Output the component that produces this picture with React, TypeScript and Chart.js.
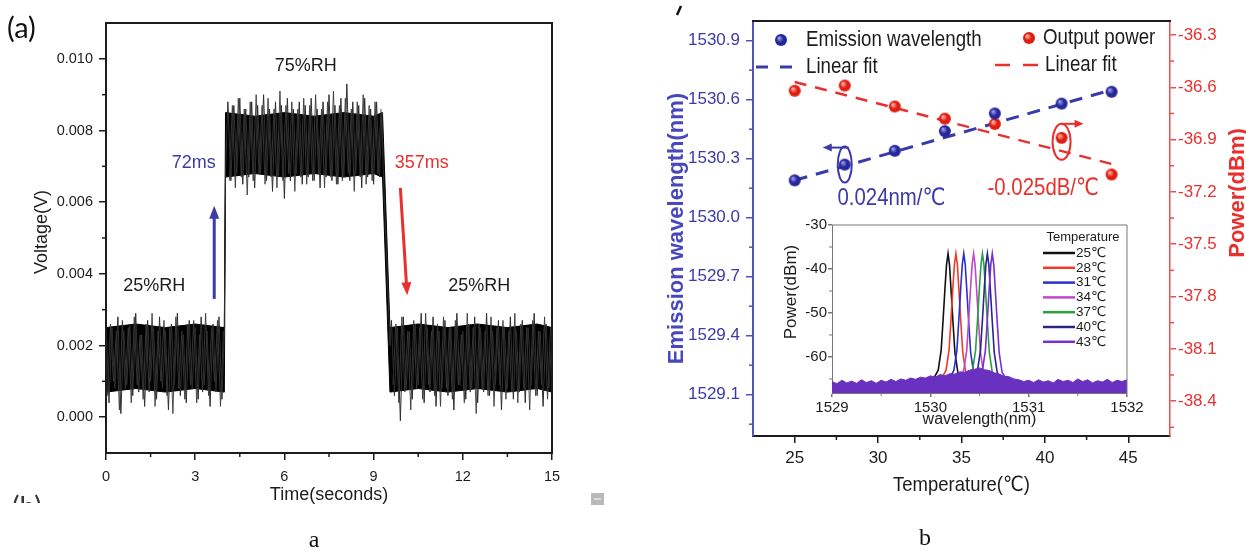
import React, { useEffect, useRef } from "react";
import { Chart, registerables } from "chart.js";

Chart.register(...registerables);

const FONT = "'Liberation Sans', Arial, 'DejaVu Sans', 'Noto Sans CJK SC', sans-serif";
const SERIF = "'Liberation Serif', 'DejaVu Serif', serif";

// ---------------- Panel (a): response trace ----------------
const traceTime = [
  0, 0.1, 0.2, 0.3, 0.4, 0.5, 0.6, 0.7, 0.8, 0.9, 1.0, 1.1, 1.2, 1.3, 1.4, 1.5, 1.6, 1.7, 1.8, 1.9,
  2.0, 2.1, 2.2, 2.3, 2.4, 2.5, 2.6, 2.7, 2.8, 2.9, 3.0, 3.1, 3.2, 3.3, 3.4, 3.5, 3.6, 3.7, 3.8, 3.9,
  3.98, 4.02,
  4.1, 4.2, 4.3, 4.4, 4.5, 4.6, 4.7, 4.8, 4.9, 5.0, 5.1, 5.2, 5.3, 5.4, 5.5, 5.6, 5.7, 5.8, 5.9, 6.0,
  6.1, 6.2, 6.3, 6.4, 6.5, 6.6, 6.7, 6.8, 6.9, 7.0, 7.1, 7.2, 7.3, 7.4, 7.5, 7.6, 7.7, 7.8, 7.9, 8.0,
  8.1, 8.2, 8.3, 8.4, 8.5, 8.6, 8.7, 8.8, 8.9, 9.0, 9.1, 9.2,
  9.28, 9.32, 9.55,
  9.6, 9.7, 9.8, 9.9, 10.0, 10.1, 10.2, 10.3, 10.4, 10.5, 10.6, 10.7, 10.8, 10.9, 11.0, 11.1, 11.2,
  11.3, 11.4, 11.5, 11.6, 11.7, 11.8, 11.9, 12.0, 12.1, 12.2, 12.3, 12.4, 12.5, 12.6, 12.7, 12.8,
  12.9, 13.0, 13.1, 13.2, 13.3, 13.4, 13.5, 13.6, 13.7, 13.8, 13.9, 14.0, 14.1, 14.2, 14.3, 14.4,
  14.5, 14.6, 14.7, 14.8, 14.9, 15.0,
];
const traceVoltage = [
  0.0027, 0.0004, 0.0025, 0.0008, 0.0028, 0.0001, 0.0024, 0.0009, 0.0026, 0.0006,
  0.0029, 0.0007, 0.0023, 0.0003, 0.0027, 0.0010, 0.0025, 0.0005, 0.0028, 0.0008,
  0.0024, 0.0002, 0.0026, 0.0009, 0.0029, 0.0006, 0.0023, 0.0004, 0.0027, 0.0008,
  0.0025, 0.0005, 0.0028, 0.0009, 0.0024, 0.0003, 0.0026, 0.0007, 0.0028, 0.0005,
  0.0024, 0.0069,
  0.0088, 0.0066, 0.0087, 0.0068, 0.0089, 0.0065, 0.0086, 0.0067, 0.0088, 0.0064,
  0.0087, 0.0068, 0.0090, 0.0066, 0.0086, 0.0063, 0.0088, 0.0067, 0.0087, 0.0061,
  0.0089, 0.0066, 0.0086, 0.0068, 0.0088, 0.0065, 0.0087, 0.0067, 0.0089, 0.0066,
  0.0086, 0.0064, 0.0088, 0.0067, 0.0090, 0.0066, 0.0087, 0.0065, 0.0089, 0.0067,
  0.0093, 0.0066, 0.0088, 0.0068, 0.0087, 0.0064, 0.0089, 0.0067, 0.0086, 0.0065,
  0.0088, 0.0067,
  0.0085, 0.0070, 0.0020,
  0.0027, 0.0006, 0.0025, -0.0001, 0.0028, 0.0008, 0.0024, 0.0005, 0.0026, 0.0009,
  0.0029, 0.0004, 0.0025, 0.0007, 0.0028, 0.0003, 0.0024, 0.0008, 0.0027, 0.0006,
  0.0025, 0.0002, 0.0029, 0.0009, 0.0024, 0.0005, 0.0026, 0.0008, 0.0028, 0.0004,
  0.0025, 0.0007, 0.0029, 0.0006, 0.0024, 0.0009, 0.0027, 0.0002, 0.0025, 0.0008,
  0.0028, 0.0005, 0.0024, 0.0007, 0.0027, 0.0004, 0.0025, 0.0009, 0.0029, 0.0006,
  0.0024, 0.0003, 0.0026, 0.0008, 0.0023,
];
// second sampled trace (interleaved samples), null marks the two switching gaps
const traceTime2 = [
  0.05, 0.15, 0.25, 0.35, 0.45, 0.55, 0.65, 0.75, 0.85, 0.95, 1.05, 1.15, 1.25, 1.35, 1.45, 1.55,
  1.65, 1.75, 1.85, 1.95, 2.05, 2.15, 2.25, 2.35, 2.45, 2.55, 2.65, 2.75, 2.85, 2.95, 3.05, 3.15,
  3.25, 3.35, 3.45, 3.55, 3.65, 3.75, 3.85, 3.95,
  4.05,
  4.15, 4.25, 4.35, 4.45, 4.55, 4.65, 4.75, 4.85, 4.95, 5.05, 5.15, 5.25, 5.35, 5.45, 5.55, 5.65,
  5.75, 5.85, 5.95, 6.05, 6.15, 6.25, 6.35, 6.45, 6.55, 6.65, 6.75, 6.85, 6.95, 7.05, 7.15, 7.25,
  7.35, 7.45, 7.55, 7.65, 7.75, 7.85, 7.95, 8.05, 8.15, 8.25, 8.35, 8.45, 8.55, 8.65, 8.75, 8.85,
  8.95, 9.05, 9.15, 9.25,
  9.45,
  9.65, 9.75, 9.85, 9.95, 10.05, 10.15, 10.25, 10.35, 10.45, 10.55, 10.65, 10.75, 10.85, 10.95,
  11.05, 11.15, 11.25, 11.35, 11.45, 11.55, 11.65, 11.75, 11.85, 11.95, 12.05, 12.15, 12.25, 12.35,
  12.45, 12.55, 12.65, 12.75, 12.85, 12.95, 13.05, 13.15, 13.25, 13.35, 13.45, 13.55, 13.65, 13.75,
  13.85, 13.95, 14.05, 14.15, 14.25, 14.35, 14.45, 14.55, 14.65, 14.75, 14.85, 14.95,
];
const traceVoltage2 = [
  0.0006, 0.0026, 0.0010, 0.0024, 0.0002, 0.0027, 0.0008, 0.0025, 0.0004, 0.0028,
  0.0009, 0.0023, 0.0005, 0.0026, 0.0007, 0.0029, 0.0003, 0.0024, 0.0010, 0.0027,
  0.0006, 0.0025, 0.0001, 0.0028, 0.0008, 0.0024, 0.0005, 0.0026, 0.0009, 0.0027,
  0.0004, 0.0023, 0.0007, 0.0029, 0.0006, 0.0025, 0.0010, 0.0027, 0.0003, 0.0024,
  null,
  0.0066, 0.0087, 0.0064, 0.0089, 0.0067, 0.0086, 0.0062, 0.0088, 0.0066, 0.0090,
  0.0068, 0.0087, 0.0065, 0.0089, 0.0067, 0.0086, 0.0064, 0.0091, 0.0066, 0.0087,
  0.0068, 0.0088, 0.0063, 0.0086, 0.0067, 0.0089, 0.0065, 0.0087, 0.0066, 0.0090,
  0.0068, 0.0086, 0.0064, 0.0088, 0.0067, 0.0091, 0.0065, 0.0087, 0.0066, 0.0089,
  0.0068, 0.0086, 0.0063, 0.0088, 0.0067, 0.0090, 0.0065, 0.0087, 0.0066, 0.0088,
  0.0068, 0.0086,
  null,
  0.0009, 0.0026, 0.0004, 0.0028, 0.0007, 0.0024, 0.0002, 0.0027, 0.0008, 0.0025,
  0.0005, 0.0029, 0.0009, 0.0024, 0.0006, 0.0026, 0.0003, 0.0028, 0.0008, 0.0025,
  0.0005, 0.0027, 0.0009, 0.0023, 0.0004, 0.0029, 0.0007, 0.0025, 0.0001, 0.0026,
  0.0008, 0.0024, 0.0006, 0.0028, 0.0003, 0.0025, 0.0009, 0.0027, 0.0005, 0.0024,
  0.0007, 0.0029, 0.0004, 0.0026, 0.0008, 0.0025, 0.0002, 0.0027, 0.0006, 0.0024,
  0.0009, 0.0028, 0.0005, 0.0025,
];
const coreTime = [0, 1, 2, 3, 3.98, 4.02, 5, 6, 7, 8, 9, 9.3, 9.55, 10.5, 11.5, 12.5, 13.5, 14.5, 15];
const coreUpper = [0.0025, 0.0026, 0.0025, 0.0026, 0.0025, 0.0085, 0.0084, 0.0085, 0.0084, 0.0085, 0.0084, 0.0085, 0.0025, 0.0026, 0.0025, 0.0026, 0.0025, 0.0026, 0.0025];
const coreLower = [0.0007, 0.0008, 0.0007, 0.0008, 0.0007, 0.0067, 0.0068, 0.0067, 0.0068, 0.0067, 0.0068, 0.0067, 0.0007, 0.0008, 0.0007, 0.0008, 0.0007, 0.0008, 0.0007];
const voltageTicks = [0, 0.002, 0.004, 0.006, 0.008, 0.01];
const voltageMinorTicks = [0.001, 0.003, 0.005, 0.007, 0.009];
const timeTicks = [0, 3, 6, 9, 12, 15];
const timeMinorTicks = [1.5, 4.5, 7.5, 10.5, 13.5];

// ---------------- Panel (b): temperature dependence ----------------
const temperatures = [25, 28, 31, 34, 37, 41, 44];
const emissionWavelength = [1530.19, 1530.27, 1530.34, 1530.44, 1530.53, 1530.58, 1530.64];
const outputPower = [-36.62, -36.59, -36.71, -36.78, -36.81, -36.89, -37.1];
const fitTemperature = [25, 44];
const wavelengthFit = [1530.19, 1530.65];
const powerFit = [-36.57, -37.04];
const temperatureTicks = [25, 30, 35, 40, 45];
const temperatureMinorTicks = [27.5, 32.5, 37.5, 42.5];
const wavelengthTicks = [1529.1, 1529.4, 1529.7, 1530.0, 1530.3, 1530.6, 1530.9];
const wavelengthMinorTicks = [1528.95, 1529.25, 1529.55, 1529.85, 1530.15, 1530.45, 1530.75];
const powerTicks = [-38.4, -38.1, -37.8, -37.5, -37.2, -36.9, -36.6, -36.3];
const powerMinorTicks = [-38.55, -38.25, -37.95, -37.65, -37.35, -37.05, -36.75, -36.45];

// inset spectra
const insetLabels = ["25℃", "28℃", "31℃", "34℃", "37℃", "40℃", "43℃"];
const insetPeakWavelength = [1530.18, 1530.26, 1530.34, 1530.44, 1530.53, 1530.58, 1530.63];
const peakShapeOffset = [-0.16, -0.1, -0.07, -0.05, -0.03, -0.015, 0, 0.015, 0.03, 0.05, 0.07, 0.1, 0.16];
const peakShapePower = [-65.5, -63.0, -58.5, -51.5, -44, -39, -36.5, -39, -44.5, -52, -59, -63.5, -65.5];
const floorWavelength = [
  1529.0, 1529.05, 1529.1, 1529.15, 1529.2, 1529.25, 1529.3, 1529.35, 1529.4, 1529.45,
  1529.5, 1529.55, 1529.6, 1529.65, 1529.7, 1529.75, 1529.8, 1529.85, 1529.9, 1529.95,
  1530.0, 1530.05, 1530.1, 1530.15, 1530.2, 1530.25, 1530.3, 1530.35, 1530.4, 1530.45,
  1530.5, 1530.55, 1530.6, 1530.65, 1530.7, 1530.75, 1530.8, 1530.85, 1530.9, 1530.95,
  1531.0, 1531.05, 1531.1, 1531.15, 1531.2, 1531.25, 1531.3, 1531.35, 1531.4, 1531.45,
  1531.5, 1531.55, 1531.6, 1531.65, 1531.7, 1531.75, 1531.8, 1531.85, 1531.9, 1531.95, 1532.0,
];
const floorPower = [
  -65.6, -66.1, -65.3, -65.9, -65.5, -66.0, -65.2, -65.8, -65.4, -66.0,
  -65.3, -65.7, -65.1, -65.6, -65.0, -65.3, -64.8, -65.1, -64.6, -64.8,
  -64.3, -64.6, -64.0, -64.3, -63.8, -63.9, -63.4, -63.5, -63.0, -62.8,
  -62.5, -62.9, -63.1, -63.6, -63.9, -64.4, -64.5, -65.0, -65.2, -65.6,
  -65.3, -65.8, -65.2, -65.7, -65.4, -65.9, -65.1, -65.6, -65.3, -65.8,
  -65.0, -65.6, -65.2, -65.9, -65.4, -65.7, -65.1, -65.8, -65.3, -65.6, -65.2,
];
const insetPowerTicks = [-60, -50, -40, -30];
const insetPowerMinorTicks = [-65, -55, -45, -35];
const insetWavelengthTicks = [1529, 1530, 1531, 1532];
const insetWavelengthMinorTicks = [1529.5, 1530.5, 1531.5];

// ---------------- styles ----------------
const BLUE = "#3a3aa8";
const BLUE_AX = "#5353c0";
const RED = "#e8302e";
const RED_AX = "#e65050";
const INK = "#1c1c1c";
const insetColors = ["#111111", "#f23a26", "#2a2fd0", "#c447c8", "#2aa040", "#26268c", "#7a2fd0"];

type TOpts = {
  size: number; color?: string; weight?: string; family?: string;
  align?: CanvasTextAlign; baseline?: CanvasTextBaseline; rotate?: number; sx?: number;
};
function drawText(ctx: CanvasRenderingContext2D, str: string, x: number, y: number, o: TOpts) {
  ctx.save();
  ctx.translate(x, y);
  if (o.rotate) ctx.rotate(o.rotate);
  if (o.sx) ctx.scale(o.sx, 1);
  ctx.font = `${o.weight || "normal"} ${o.size}px ${o.family || FONT}`;
  ctx.fillStyle = o.color || INK;
  ctx.textAlign = o.align || "center";
  ctx.textBaseline = o.baseline || "middle";
  ctx.fillText(str, 0, 0);
  ctx.restore();
}
function seg(ctx: CanvasRenderingContext2D, x1: number, y1: number, x2: number, y2: number, color: string, w: number) {
  ctx.save();
  ctx.strokeStyle = color;
  ctx.lineWidth = w;
  ctx.beginPath();
  ctx.moveTo(x1, y1);
  ctx.lineTo(x2, y2);
  ctx.stroke();
  ctx.restore();
}
function arrow(ctx: CanvasRenderingContext2D, x1: number, y1: number, x2: number, y2: number, color: string, w: number, hl: number, hw: number) {
  const ang = Math.atan2(y2 - y1, x2 - x1);
  const c = Math.cos(ang), s = Math.sin(ang);
  seg(ctx, x1, y1, x2 - c * hl * 0.7, y2 - s * hl * 0.7, color, w);
  ctx.save();
  ctx.fillStyle = color;
  ctx.beginPath();
  ctx.moveTo(x2, y2);
  ctx.lineTo(x2 - hl * c + hw * s, y2 - hl * s - hw * c);
  ctx.lineTo(x2 - hl * c - hw * s, y2 - hl * s + hw * c);
  ctx.closePath();
  ctx.fill();
  ctx.restore();
}
function minorY(ctx: CanvasRenderingContext2D, scale: any, vals: number[], x: number, len: number, color: string, w: number) {
  vals.forEach((v) => {
    const y = scale.getPixelForValue(v);
    seg(ctx, x, y, x + len, y, color, w);
  });
}
function minorX(ctx: CanvasRenderingContext2D, scale: any, vals: number[], y: number, len: number, color: string, w: number) {
  vals.forEach((v) => {
    const x = scale.getPixelForValue(v);
    seg(ctx, x, y, x, y + len, color, w);
  });
}
function ball(dark: string, light: string, r: number) {
  const c = document.createElement("canvas");
  const s = r * 2 + 2;
  c.width = s;
  c.height = s;
  const g = c.getContext("2d") as CanvasRenderingContext2D;
  const grad = g.createRadialGradient(s / 2 - r * 0.35, s / 2 - r * 0.35, r * 0.1, s / 2, s / 2, r);
  grad.addColorStop(0, light);
  grad.addColorStop(0.55, dark);
  grad.addColorStop(1, dark);
  g.fillStyle = grad;
  g.beginPath();
  g.arc(s / 2, s / 2, r, 0, Math.PI * 2);
  g.fill();
  return c;
}

const fixWidth = (w: number) => (scale: any) => { scale.width = w; };
const fixHeight = (h: number) => (scale: any) => { scale.height = h; };
const setTicks = (vals: number[]) => (scale: any) => { scale.ticks = vals.map((v) => ({ value: v })); };

function axisOpts(color: string, textColor: string, size: number, tickLen: number, pad: number, borderW: number, fmt: (v: number) => string) {
  return {
    ticks: { color: textColor, font: { family: FONT, size }, padding: pad, maxRotation: 0, autoSkip: false, callback: (v: any) => fmt(Number(v)) },
    grid: { drawOnChartArea: false, drawTicks: true, tickLength: tickLen, color, lineWidth: 1.5 },
    border: { display: true, color, width: borderW },
  };
}
const plain = (v: number) => String(v);
const fixed1 = (v: number) => v.toFixed(1);
const fixed3 = (v: number) => v.toFixed(3);

export default function App() {
  const aRef = useRef<HTMLCanvasElement | null>(null);
  const bRef = useRef<HTMLCanvasElement | null>(null);
  const cRef = useRef<HTMLCanvasElement | null>(null);

  useEffect(() => {
    const charts: Chart[] = [];
    const blueBall = ball("#26269a", "#9a9ae8", 6);
    const redBall = ball("#e01c12", "#ffb0a0", 6);

    // ---------- panel a ----------
    const panelAPlugin = {
      id: "panelA",
      afterDraw(chart: any) {
        const { ctx, chartArea: a, scales } = chart;
        const x = scales.x, y = scales.y;
        const px = (v: number) => x.getPixelForValue(v);
        const py = (v: number) => y.getPixelForValue(v);
        ctx.save();
        ctx.strokeStyle = INK;
        ctx.lineWidth = 2;
        ctx.strokeRect(a.left, a.top, a.right - a.left, a.bottom - a.top);
        ctx.restore();
        minorY(ctx, y, voltageMinorTicks, a.left, -4, INK, 1.5);
        minorX(ctx, x, timeMinorTicks, a.bottom, 4, INK, 1.5);
        drawText(ctx, "(a)", 7, 29, { size: 29, align: "left", family: "Lato, " + FONT, color: "#111" });
        drawText(ctx, "75%RH", px(6.72), py(0.0098), { size: 18 });
        drawText(ctx, "72ms", px(2.95), py(0.0071), { size: 18, color: BLUE });
        drawText(ctx, "357ms", px(10.62), py(0.0071), { size: 18, color: RED });
        drawText(ctx, "25%RH", px(1.62), py(0.00365), { size: 18 });
        drawText(ctx, "25%RH", px(12.55), py(0.00365), { size: 18 });
        arrow(ctx, px(3.64), py(0.0033), px(3.64), py(0.0059), BLUE, 3, 13, 5);
        arrow(ctx, px(9.9), py(0.0064), px(10.13), py(0.0034), RED, 3, 13, 5);
        drawText(ctx, "Time(seconds)", (a.left + a.right) / 2, a.bottom + 42, { size: 18 });
        drawText(ctx, "Voltage(V)", a.left - 64, (a.top + a.bottom) / 2 - 6, { size: 18, rotate: -Math.PI / 2 });
        ctx.save();
        ctx.beginPath();
        ctx.rect(0, 490, 120, 13);
        ctx.clip();
        drawText(ctx, "(b)", 12, 494, { size: 28, align: "left", baseline: "top", color: "#333", family: "Lato, " + FONT });
        ctx.restore();
        ctx.fillStyle = "#b8b8b8";
        ctx.fillRect(591, 493, 13, 12);
        ctx.fillStyle = "#dcdcdc";
        ctx.fillRect(594, 498, 7, 2);
        drawText(ctx, "a", 314, 541, { size: 24, family: SERIF, color: "#111" });
      },
    };
    if (aRef.current) {
      charts.push(new Chart(aRef.current, {
        type: "line",
        data: {
          datasets: [
            { label: "Voltage", data: traceTime.map((t, i) => ({ x: t, y: traceVoltage[i] })), borderColor: "#2e2e2e", borderWidth: 1, pointRadius: 0, fill: false, tension: 0 },
            { label: "Voltage (interleaved)", data: traceTime2.map((t, i) => ({ x: t, y: traceVoltage2[i] })), borderColor: "#3a3a3a", borderWidth: 0.9, pointRadius: 0, fill: false, tension: 0, spanGaps: false },
            { label: "core upper", data: coreTime.map((t, i) => ({ x: t, y: coreUpper[i] })), borderColor: "#000", borderWidth: 1, pointRadius: 0, fill: false },
            { label: "core lower", data: coreTime.map((t, i) => ({ x: t, y: coreLower[i] })), borderColor: "#000", borderWidth: 1, pointRadius: 0, fill: "-1", backgroundColor: "#000" },
          ],
        } as any,
        options: {
          responsive: false, animation: false, devicePixelRatio: 1,
          layout: { padding: { top: 23, right: 68, left: 0, bottom: 0 } },
          plugins: { legend: { display: false }, tooltip: { enabled: false } },
          scales: {
            x: { type: "linear", min: 0, max: 15, afterFit: fixHeight(102), afterBuildTicks: setTicks(timeTicks),
              ...axisOpts(INK, INK, 14.5, 7, 8, 2, plain) },
            y: { type: "linear", min: -0.001, max: 0.011, afterFit: fixWidth(106), afterBuildTicks: setTicks(voltageTicks),
              ...axisOpts(INK, INK, 14.5, 7, 6, 2, fixed3) },
          },
        } as any,
        plugins: [panelAPlugin],
      }));
    }

    // ---------- panel b main ----------
    const panelBPlugin = {
      id: "panelB",
      afterDraw(chart: any) {
        const { ctx, chartArea: a, scales } = chart;
        const x = scales.x, y = scales.y, y2 = scales.y2;
        seg(ctx, a.left - 1, a.top, a.right + 1, a.top, INK, 2);
        minorX(ctx, x, temperatureMinorTicks, a.bottom, 4, INK, 1.5);
        minorY(ctx, y, wavelengthMinorTicks, a.left, -4, BLUE_AX, 1.5);
        minorY(ctx, y2, powerMinorTicks, a.right, 4, RED_AX, 1.5);
        // legend
        ctx.drawImage(blueBall, a.left + 28 - blueBall.width / 2, a.top + 19 - blueBall.height / 2);
        drawText(ctx, "Emission wavelength", a.left + 53, a.top + 19, { size: 22, sx: 0.85, align: "left" });
        ctx.drawImage(redBall, a.left + 276 - redBall.width / 2, a.top + 17 - redBall.height / 2);
        drawText(ctx, "Output power", a.left + 290, a.top + 17, { size: 22, sx: 0.85, align: "left" });
        seg(ctx, a.left + 3, a.top + 46, a.left + 15, a.top + 46, BLUE, 3);
        seg(ctx, a.left + 27, a.top + 46, a.left + 39, a.top + 46, BLUE, 3);
        drawText(ctx, "Linear fit", a.left + 53, a.top + 46, { size: 22, sx: 0.85, align: "left" });
        seg(ctx, a.left + 242, a.top + 44, a.left + 257, a.top + 44, RED, 2.5);
        seg(ctx, a.left + 270, a.top + 44, a.left + 285, a.top + 44, RED, 2.5);
        drawText(ctx, "Linear fit", a.left + 292, a.top + 44, { size: 22, sx: 0.85, align: "left" });
        // annotations
        const bx = x.getPixelForValue(temperatures[1]);
        const by = y.getPixelForValue(emissionWavelength[1]);
        ctx.save();
        ctx.strokeStyle = BLUE;
        ctx.lineWidth = 2;
        ctx.beginPath();
        ctx.ellipse(bx, by, 7, 18, 0, 0, Math.PI * 2);
        ctx.stroke();
        ctx.restore();
        arrow(ctx, bx + 4, by - 17, bx - 22, by - 17, BLUE, 2, 9, 4);
        const rx = x.getPixelForValue(temperatures[5]);
        const ry = y2.getPixelForValue(outputPower[5]) + 4;
        ctx.save();
        ctx.strokeStyle = RED;
        ctx.lineWidth = 2;
        ctx.beginPath();
        ctx.ellipse(rx, ry, 9, 18, 0, 0, Math.PI * 2);
        ctx.stroke();
        ctx.restore();
        arrow(ctx, rx, ry - 18, rx + 22, ry - 18, RED, 2, 9, 4);
        drawText(ctx, "0.024nm/℃", x.getPixelForValue(30.8), y.getPixelForValue(1530.1), { size: 24, sx: 0.85, color: BLUE });
        drawText(ctx, "-0.025dB/℃", x.getPixelForValue(39.9), y2.getPixelForValue(-37.18), { size: 24, sx: 0.85, color: RED });
        // titles
        drawText(ctx, "Temperature(℃)", (a.left + a.right) / 2, a.bottom + 49, { size: 21, sx: 0.88 });
        drawText(ctx, "Emission wavelength(nm)", a.left - 76, (a.top + a.bottom) / 2, { size: 22, weight: "bold", color: "#4848bc", rotate: -Math.PI / 2 });
        drawText(ctx, "Power(dBm)", a.right + 68, a.top + 172, { size: 22, weight: "bold", color: RED, rotate: -Math.PI / 2 });
        seg(ctx, 61, 6, 57, 15, "#111", 2.5);
        drawText(ctx, "b", 305, 539, { size: 24, family: SERIF, color: "#111" });
      },
    };
    if (bRef.current) {
      charts.push(new Chart(bRef.current, {
        type: "line",
        data: {
          datasets: [
            { label: "Emission wavelength", data: temperatures.map((t, i) => ({ x: t, y: emissionWavelength[i] })), showLine: false, pointStyle: blueBall, pointRadius: 6, yAxisID: "y" },
            { label: "Output power", data: temperatures.map((t, i) => ({ x: t, y: outputPower[i] })), showLine: false, pointStyle: redBall, pointRadius: 6, yAxisID: "y2" },
            { label: "Linear fit (wavelength)", data: fitTemperature.map((t, i) => ({ x: t, y: wavelengthFit[i] })), borderColor: BLUE, borderWidth: 3, borderDash: [13, 9], pointRadius: 0, fill: false, yAxisID: "y" },
            { label: "Linear fit (power)", data: fitTemperature.map((t, i) => ({ x: t, y: powerFit[i] })), borderColor: RED, borderWidth: 2.5, borderDash: [12, 9], pointRadius: 0, fill: false, yAxisID: "y2" },
          ],
        } as any,
        options: {
          responsive: false, animation: false, devicePixelRatio: 1,
          layout: { padding: { top: 21, right: 0, left: 0, bottom: 0 } },
          plugins: { legend: { display: false }, tooltip: { enabled: false } },
          scales: {
            x: { type: "linear", min: 22.5, max: 47.5, afterFit: fixHeight(119), afterBuildTicks: setTicks(temperatureTicks),
              ...axisOpts(INK, INK, 17, 7, 5, 2, plain) },
            y: { type: "linear", position: "left", min: 1528.89, max: 1531.0, afterFit: fixWidth(133), afterBuildTicks: setTicks(wavelengthTicks),
              ...axisOpts(BLUE_AX, BLUE, 17, 7, 6, 2, fixed1) },
            y2: { type: "linear", position: "right", min: -38.6, max: -36.22, afterFit: fixWidth(76), afterBuildTicks: setTicks(powerTicks),
              ...axisOpts(RED_AX, RED, 17, 6, 2, 1.5, fixed1) },
          },
        } as any,
        plugins: [panelBPlugin],
      }));
    }

    // ---------- inset ----------
    const insetPlugin = {
      id: "inset",
      afterDraw(chart: any) {
        const { ctx, chartArea: a, scales } = chart;
        const x = scales.x, y = scales.y;
        seg(ctx, a.left, a.top, a.right, a.top, "#777", 1);
        seg(ctx, a.right, a.top, a.right, a.bottom, "#777", 1);
        minorY(ctx, y, insetPowerMinorTicks, a.left, -3, "#777", 1);
        minorX(ctx, x, insetWavelengthMinorTicks, a.bottom, 3, "#777", 1);
        drawText(ctx, "Temperature", a.right - 44, a.top + 12, { size: 13 });
        insetLabels.forEach((lab, i) => {
          const yy = a.top + 28 + i * 14.8;
          seg(ctx, a.right - 84, yy, a.right - 52, yy, insetColors[i], 2.5);
          drawText(ctx, lab, a.right - 51, yy, { size: 13.5, align: "left" });
        });
        drawText(ctx, "Power(dBm)", a.left - 41, a.top + 67, { size: 17, rotate: -Math.PI / 2 });
        drawText(ctx, "wavelength(nm)", (a.left + a.right) / 2, a.bottom + 27, { size: 16 });
      },
    };
    if (cRef.current) {
      const spectra = insetLabels.map((lab, i) => ({
        label: lab,
        data: peakShapeOffset.map((o, k) => ({ x: insetPeakWavelength[i] + o, y: peakShapePower[k] })),
        borderColor: insetColors[i], borderWidth: 1.6, pointRadius: 0, fill: false, order: 10 - i,
      }));
      charts.push(new Chart(cRef.current, {
        type: "line",
        data: {
          datasets: [
            ...spectra,
            { label: "noise floor", data: floorWavelength.map((w, i) => ({ x: w, y: floorPower[i] })), borderColor: "#6a30c0", backgroundColor: "#6a30c0", borderWidth: 1, pointRadius: 0, fill: "start", order: 0 },
          ],
        } as any,
        options: {
          responsive: false, animation: false, devicePixelRatio: 1,
          layout: { padding: { top: 15, right: 23, left: 0, bottom: 0 } },
          plugins: { legend: { display: false }, tooltip: { enabled: false } },
          scales: {
            x: { type: "linear", min: 1529, max: 1532, afterFit: fixHeight(42), afterBuildTicks: setTicks(insetWavelengthTicks),
              ...axisOpts("#777", INK, 15, 4, 2, 1, plain) },
            y: { type: "linear", min: -68.2, max: -30, afterFit: fixWidth(62), afterBuildTicks: setTicks(insetPowerTicks),
              ...axisOpts("#777", INK, 15, 4, 1, 1, plain) },
          },
        } as any,
        plugins: [insetPlugin],
      }));
    }
    return () => charts.forEach((c) => c.destroy());
  }, []);

  return (
    <div style={{ position: "absolute", left: 0, top: 0, width: 1246, height: 555, background: "#fff", overflow: "hidden" }}>
      <canvas ref={aRef} width={620} height={555} style={{ position: "absolute", left: 0, top: 0, width: 620, height: 555 }} />
      <canvas ref={bRef} width={626} height={555} style={{ position: "absolute", left: 620, top: 0, width: 626, height: 555 }} />
      <canvas ref={cRef} width={380} height={225} style={{ position: "absolute", left: 770, top: 210, width: 380, height: 225 }} />
    </div>
  );
}
